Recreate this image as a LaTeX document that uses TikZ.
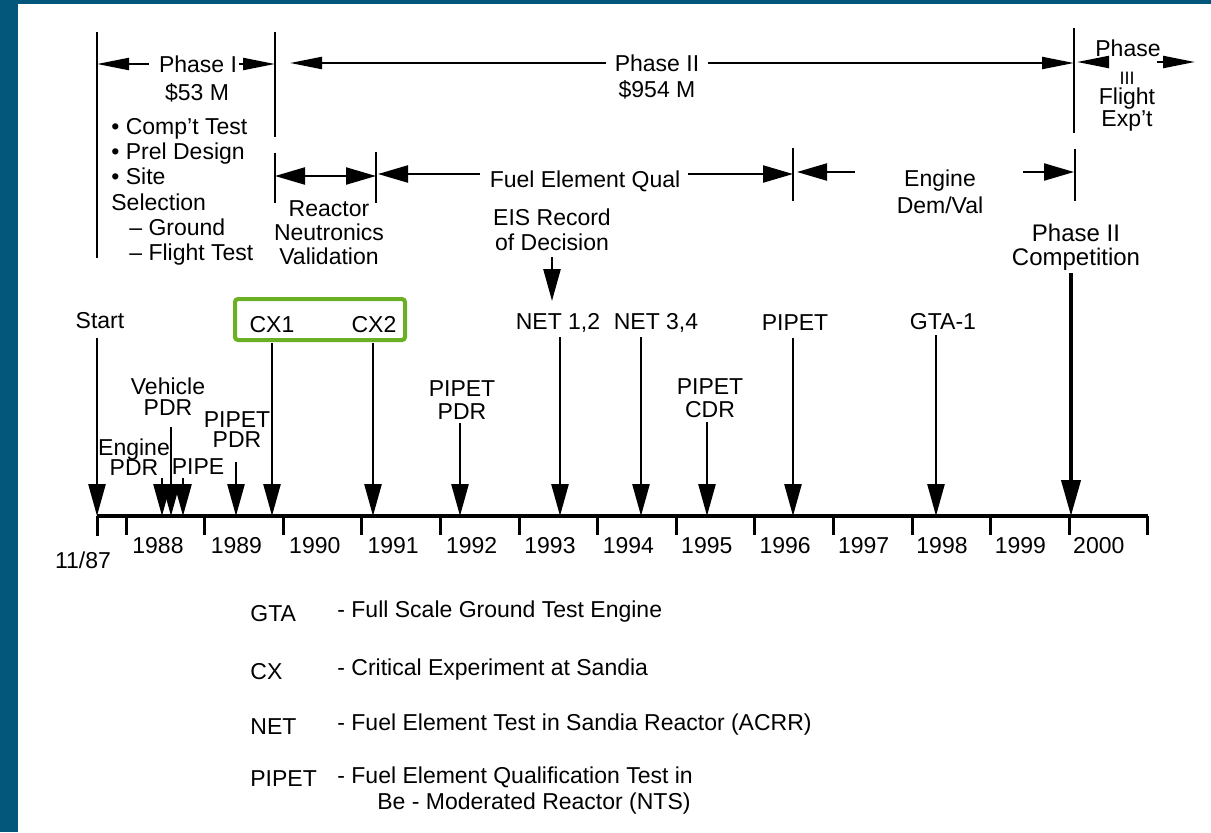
\documentclass[tikz,border=0pt]{standalone}
\usepackage{fontspec}
\setmainfont{Liberation Sans}
\usetikzlibrary{arrows.meta}

\definecolor{frameblue}{HTML}{03577B}
\definecolor{cxgreen}{HTML}{6BAF22}

\tikzset{
  txt/.style={font=\fontsize{11.5}{12}\selectfont, inner sep=1pt, align=center},
  evt/.style={line width=1.3pt, -{Triangle[length=16pt,width=8.5pt]}},
  span/.style={line width=1.1pt, ->},
  subspan/.style={line width=1.1pt, -{Triangle[length=15pt,width=8.5pt]}},
  bar/.style={line width=1.2pt},
  tick/.style={line width=1.5pt},
}

\begin{document}
\begin{tikzpicture}[x=0.5pt, y=-0.5pt, >={Triangle[length=16pt,width=6pt]}]
  \useasboundingbox (0,0) rectangle (1211,832);

  % Frame
  \fill[frameblue] (0,0) rectangle (1211,832);
  \fill[white] (18,4) rectangle (1211,832);

  % Phase bars
  \coordinate (b0) at (97,32);
  \coordinate (b1) at (275,32);
  \coordinate (b2) at (376,152);
  \coordinate (b3) at (793,148);
  \coordinate (b4) at (1074,28);
  \draw[bar] (b0) -- ++(0,226);
  \draw[bar] (b1) -- ++(0,105);
  \draw[bar] (275,153) -- ++(0,50);
  \draw[bar] (b2) -- ++(0,51);
  \draw[bar] (b3) -- ++(0,53);
  \draw[bar] (b4) -- ++(0,105);
  \draw[bar] (1075,149) -- ++(0,52);

  % Phases
  \node[txt] (ph1) at (198,64) {Phase I};
  \node[txt] (ph1cost) at (197,93) {\$53 M};
  \draw[span, shorten <=4pt] (ph1.west) -- (ph1.west -| b0);
  \draw[span] (ph1.east) -- (ph1.east -| b1);

  \node[txt] (ph2) at (657,63) {Phase II};
  \node[txt] (ph2cost) at (657,90) {\$954 M};
  \draw[span, shorten <=3pt, shorten >=7.5pt] (ph2.west) -- (ph2.west -| b1);
  \draw[span, shorten <=3pt] (ph2.east) -- (ph2.east -| b4);

  \node[txt] (ph3) at (1128,48) {Phase};
  \node[txt, inner sep=0pt, font=\fontsize{9}{9}\selectfont] (ph3num) at (1127,78) {III};
  \node[txt, inner sep=0pt, font=\fontsize{11.5}{11}\selectfont] (ph3sub) at (1127,110) {Flight\\Exp't};
  \coordinate (p3a) at (1106,62);
  \coordinate (p3b) at (1157,62);
  \coordinate (p3c) at (1195,62);
  \draw[span, shorten >=1.5pt] (p3a) -- (p3a -| b4);
  \draw[span] (p3b) -- (p3c);

  % Phase I work
  \node[txt, align=left, anchor=north west, inner sep=0pt,
        font=\fontsize{11.5}{12.6}\selectfont] (ph1work) at (111,118)
    {\textbullet\ Comp't Test\\ \textbullet\ Prel Design\\ \textbullet\ Site\\ Selection\\
     \hspace*{9pt}-- Ground\\ \hspace*{9pt}-- Flight Test};

  % Sub-phases
  \node[txt] (rnv) at (329,233) {Reactor\\Neutronics\\Validation};
  \coordinate (rnvL) at (275,176);
  \draw[subspan, {Triangle[length=15pt,width=8.5pt]}-{Triangle[length=15pt,width=8.5pt]}] (rnvL) -- (rnvL -| b2);

  \node[txt] (feq) at (585,181) {Fuel Element Qual};
  \coordinate (feqL) at (480,174);
  \coordinate (feqR) at (688,174);
  \draw[subspan, shorten >=1pt] (feqL) -- (feqL -| b2);
  \draw[subspan] (feqR) -- (feqR -| b3);

  \node[txt, font=\fontsize{11.5}{13.5}\selectfont] (edv) at (940,192) {Engine\\Dem/Val};
  \coordinate (edvL) at (855,172);
  \coordinate (edvR) at (1023,172);
  \draw[subspan, shorten >=2pt] (edvL) -- (edvL -| b3);
  \draw[subspan] (edvR) -- (edvR -| b4);

  % Record of decision
  \node[txt, font=\fontsize{11.5}{12.5}\selectfont] (eis) at (552,230) {EIS Record\\of Decision};
  \coordinate (eisTip) at (552,301);
  \draw[evt, shorten <=2pt] (eis) -- (eisTip);

  % Timeline
  \coordinate (t0) at (97,516);
  \coordinate (t1) at (1148,516);
  \draw[line width=1.8pt] (t0) -- (t1);
  \draw[tick] (t0) -- ++(0,20);
  \foreach \k in {0,...,13}
    \draw[tick] (126+78.6*\k,516) -- ++(0,19);
  \foreach \yr [count=\k from 0] in {1988,...,2000}
    \node[txt] (y\yr) at (158+78.4*\k,546) {\yr};
  \node[txt] (y1187) at (83,560) {11/87};

  % Milestones
  \foreach \n/\lx/\ly/\sx/\sy/\t in {
      start/100/321/97/338/Start,
      engpdr/134/457/162/478/{Engine\\[-2pt]PDR},
      vehpdr/168/397/171/427/{Vehicle\\[-1.5pt]PDR},
      pipe/198/467/183/478/PIPE,
      pdr89/237/430/236/462/{PIPET\\[-2pt]PDR},
      cx1/272/325/272/343/CX1,
      cx2/374/325/373/343/CX2,
      pdr92/462/400/460/423/{PIPET\\[-0.5pt]PDR},
      net12/558/323/560/337/{NET 1,2},
      net34/656/323/641/337/{NET 3,4},
      cdr95/710/398/707/422/{PIPET\\[-0.5pt]CDR},
      pipet96/795/323/793/338/PIPET,
      gta1/943/322/936/335/GTA-1}
  {
    \node[txt] (\n) at (\lx,\ly) {\t};
    \coordinate (s-\n) at (\sx,\sy);
    \draw[evt] (s-\n) -- (s-\n |- t0);
  }

  % Phase II competition
  \node[txt, font=\fontsize{12}{12}\selectfont] (comp) at (1076,247) {Phase II\\Competition};
  \coordinate (s-comp) at (1071,273);
  \draw[line width=2pt, -{Triangle[length=18pt,width=9.5pt]}] (s-comp) -- (s-comp |- t0);

  % CX highlight
  \draw[cxgreen, line width=2pt, rounded corners=1.5pt] (235,299) rectangle (405,340);

  % Legend
  \node[txt, anchor=west] (gta) at (248,614) {GTA};
  \node[txt, anchor=west] (gtad) at (335,612) {- Full Scale Ground Test Engine};
  \node[txt, anchor=west] (cx) at (248,672) {CX};
  \node[txt, anchor=west] (cxd) at (335,670) {- Critical Experiment at Sandia};
  \node[txt, anchor=west] (net) at (248,727) {NET};
  \node[txt, anchor=west] (netd) at (335,725) {- Fuel Element Test in Sandia Reactor (ACRR)};
  \node[txt, anchor=west] (pipet) at (248,779) {PIPET};
  \node[txt, anchor=west] (pipetd) at (335,777) {- Fuel Element Qualification Test in};
  \node[txt, anchor=west] (pipetd2) at (375,804) {Be - Moderated Reactor (NTS)};

\end{tikzpicture}
\end{document}
